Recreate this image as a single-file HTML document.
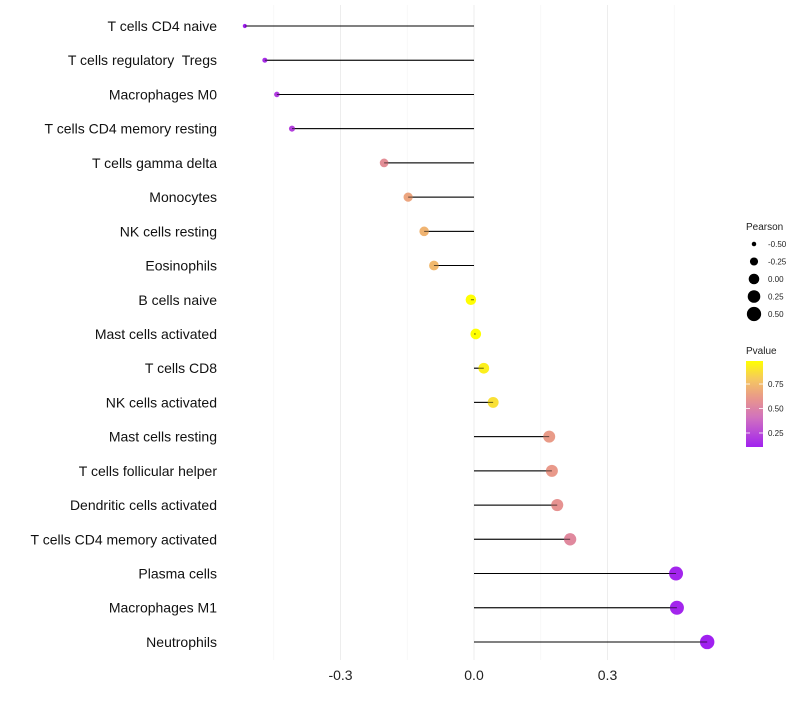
<!DOCTYPE html>
<html><head><meta charset="utf-8"><style>
body{margin:0;background:#fff;font-family:"Liberation Sans",sans-serif;}
text{white-space:pre;}
</style></head><body>
<svg id="chart" width="800" height="700" xmlns="http://www.w3.org/2000/svg"></svg>
<script>
const categories=["T cells CD4 naive","T cells regulatory  Tregs","Macrophages M0","T cells CD4 memory resting","T cells gamma delta","Monocytes","NK cells resting","Eosinophils","B cells naive","Mast cells activated","T cells CD8","NK cells activated","Mast cells resting","T cells follicular helper","Dendritic cells activated","T cells CD4 memory activated","Plasma cells","Macrophages M1","Neutrophils"];
const pearson=[-0.515,-0.47,-0.443,-0.409,-0.202,-0.148,-0.112,-0.09,-0.007,0.004,0.022,0.043,0.169,0.175,0.187,0.216,0.454,0.456,0.524];
const pvalues=[0.1,0.15,0.2,0.22,0.56,0.66,0.72,0.74,0.98,0.99,0.93,0.88,0.62,0.61,0.58,0.53,0.12,0.12,0.08];
const xTicks=[-0.3,0.0,0.3];
const xTickLabels=["-0.3","0.0","0.3"];
const sizeLegend=[-0.5,-0.25,0,0.25,0.5];
const pLegend=[0.25,0.5,0.75];

const svg=document.getElementById('chart');
const NS="http://www.w3.org/2000/svg";
function mk(t,a,parent){const e=document.createElementNS(NS,t);for(const k in a)e.setAttribute(k,a[k]);(parent||svg).appendChild(e);return e;}
const xS=v=>474+v*445;
const yS=i=>26+i*34.22;
const rS=v=>Math.sqrt(Math.max(1,28+46*v));
const stops=[[0.1,[160,32,240]],[0.4,[208,112,192]],[0.6,[232,150,140]],[0.8,[245,200,96]],[0.985,[255,255,0]]];
function col(p){if(p<=stops[0][0])return `rgb(${stops[0][1]})`;for(let i=1;i<stops.length;i++){if(p<=stops[i][0]){const a=stops[i-1],b=stops[i],t=(p-a[0])/(b[0]-a[0]);return `rgb(${a[1].map((c,j)=>Math.round(c+(b[1][j]-c)*t)).join(',')})`;}}return `rgb(${stops[stops.length-1][1]})`;}

[-0.45,-0.15,0.15,0.45].forEach(v=>{const g=mk('line',{x1:xS(v),x2:xS(v),y1:5,y2:660,stroke:'#f4f4f4','stroke-width':0.6});});
xTicks.forEach((v,i)=>{const g=mk('line',{x1:xS(v),x2:xS(v),y1:5,y2:660,stroke:'#ededed','stroke-width':1});
const t=mk('text',{x:xS(v),y:680,'text-anchor':'middle','font-size':14,fill:'#222'});t.textContent=xTickLabels[i];});

categories.forEach((c,i)=>{
const y=yS(i);
const t=mk('text',{x:217,y:y+5,'text-anchor':'end','font-size':14,fill:'#111'});t.textContent=c;


const l=mk('line',{x1:xS(0),x2:xS(pearson[i]),y1:y,y2:y,stroke:'#000','stroke-width':1});


const d=mk('circle',{cx:xS(pearson[i]),cy:y,r:rS(pearson[i]),fill:col(pvalues[i])});


const s=mk('line',{x1:xS(0),x2:xS(pearson[i]),y1:y,y2:y,stroke:'#000','stroke-width':1,'stroke-opacity':0.6});


});

const lt=mk('text',{x:746,y:230,'font-size':10,fill:'#222'});lt.textContent='Pearson';
sizeLegend.forEach((v,i)=>{const y=244+i*17.5;const c=mk('circle',{cx:754,cy:y,r:rS(v),fill:'#000'});
const t=mk('text',{x:768,y:y+3,'font-size':8,fill:'#222'});t.textContent=v.toFixed(2);});

const pt=mk('text',{x:746,y:354,'font-size':10,fill:'#222'});pt.textContent='Pvalue';
const defs=mk('defs',{});const gr=mk('linearGradient',{id:'pg',x1:0,y1:1,x2:0,y2:0},defs);
for(let k=0;k<=20;k++){const p=0.107+(0.985-0.107)*k/20;mk('stop',{offset:(k/20),'stop-color':col(p)},gr);}
const bar=mk('rect',{x:746,y:361,width:17,height:86,fill:'url(#pg)'});
const pY=p=>447-(p-0.107)/(0.985-0.107)*86;
pLegend.forEach(p=>{const y=pY(p);mk('line',{x1:746,x2:750,y1:y,y2:y,stroke:'#fff','stroke-width':0.8});mk('line',{x1:759,x2:763,y1:y,y2:y,stroke:'#fff','stroke-width':0.8});
const t=mk('text',{x:768,y:y+3,'font-size':8,fill:'#222'});t.textContent=p.toFixed(2);});
</script>
</body></html>
